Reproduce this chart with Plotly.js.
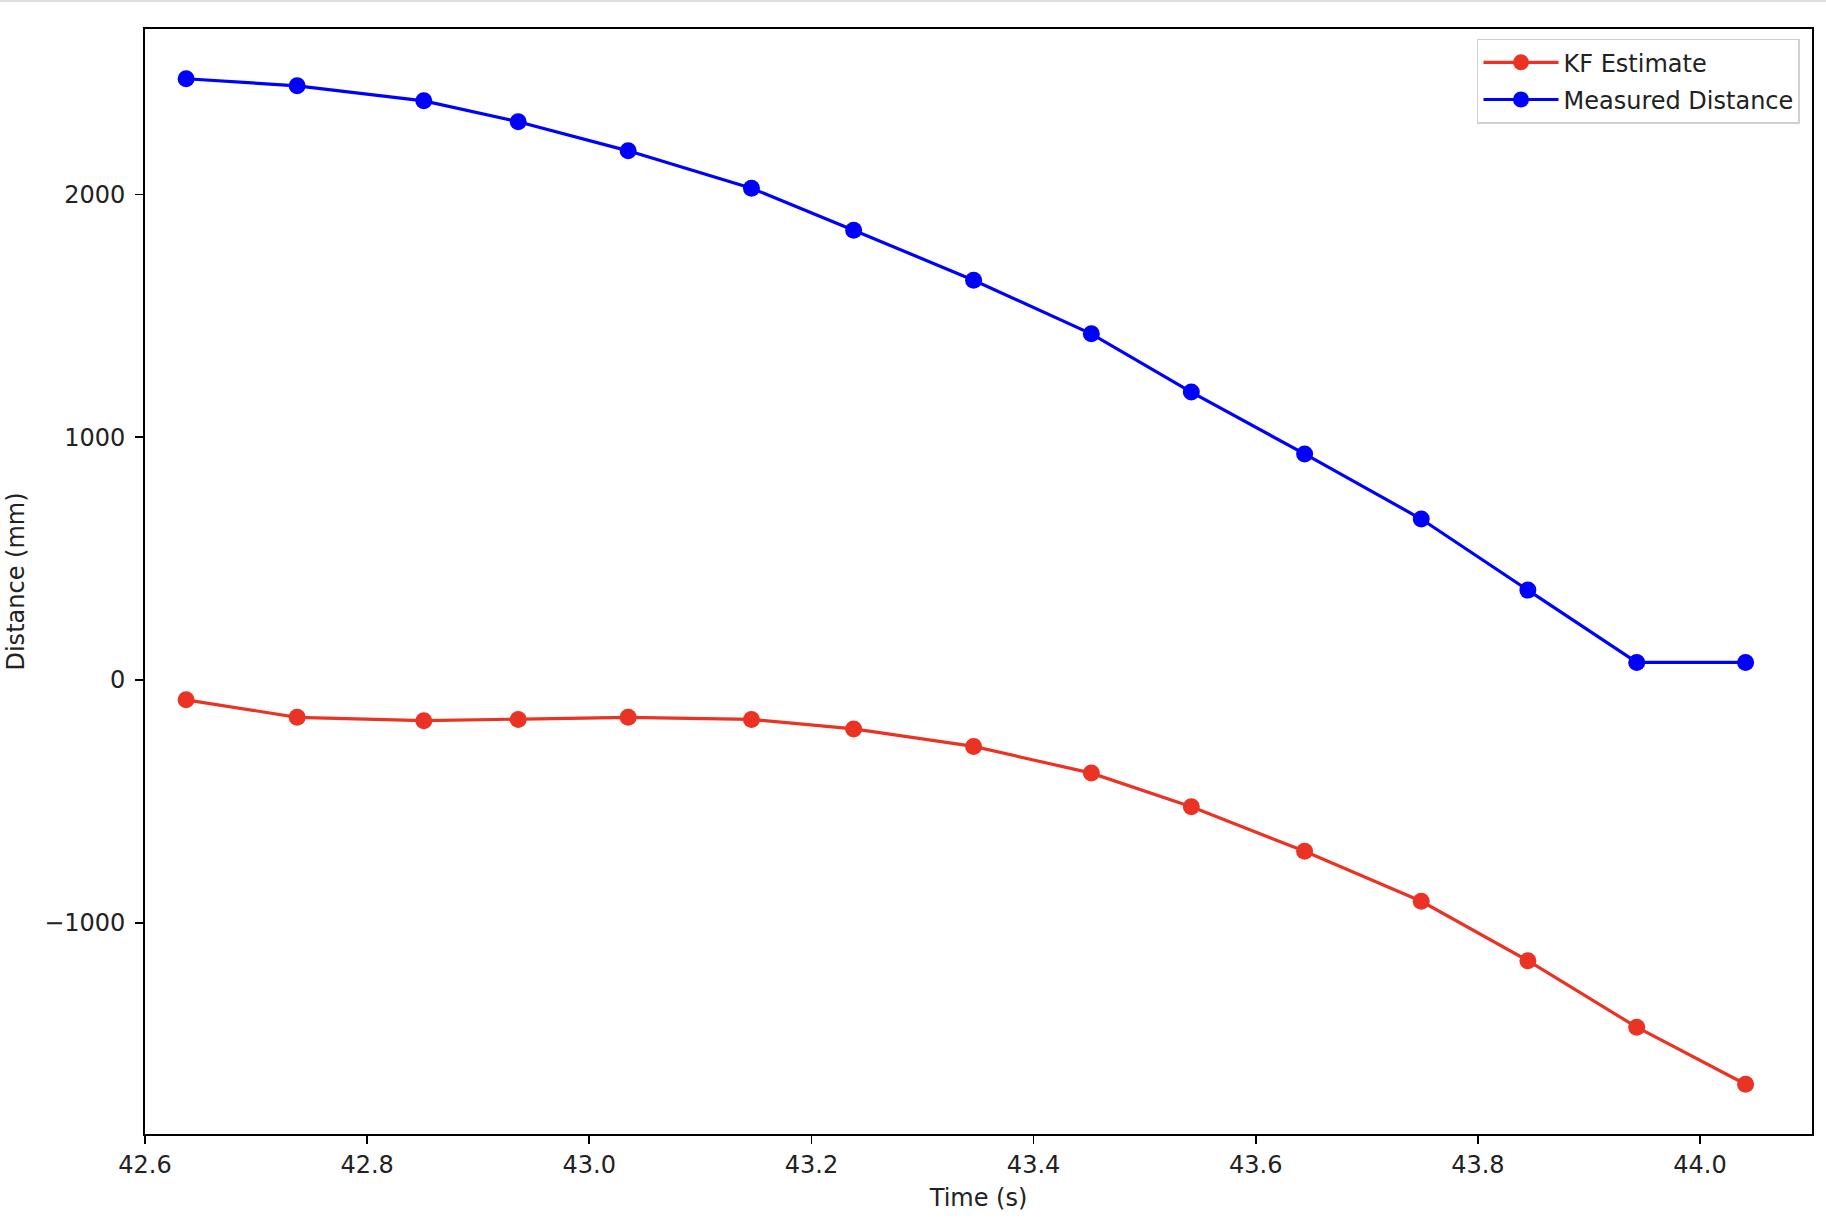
<!DOCTYPE html>
<html>
<head>
<meta charset="utf-8">
<script src="https://cdn.plot.ly/plotly-3.0.1.min.js"></script>
<style>html,body{margin:0;padding:0;background:#fff;}#chart{width:1826px;height:1224px;}</style>
</head>
<body>
<div id="chart"></div>
<script>
const timeS = [42.637, 42.737, 42.851, 42.936, 43.035, 43.146, 43.238, 43.346, 43.452, 43.542, 43.644, 43.749, 43.845, 43.943, 44.041];
const kfEstimate = [-82, -154, -168, -163, -154, -163, -202, -274, -384, -523, -706, -912, -1157, -1431, -1666];
const measuredDistance = [2477, 2448, 2386, 2300, 2180, 2026, 1853, 1647, 1426, 1186, 931, 663, 370, 72, 72];
const seriesNames = ["KF Estimate", "Measured Distance"];
const xTitle = "Time (s)";
const yTitle = "Distance (mm)";

const FONT = "DejaVu Sans, sans-serif";
const FS = 24;
const traces = [
  {x: timeS, y: kfEstimate, name: seriesNames[0], legendgroup: "a", mode: "lines+markers",
   line: {color: "#ea3324", width: 3.2}, marker: {color: "#ea3324", size: 17}},
  {x: timeS, y: measuredDistance, name: seriesNames[1], legendgroup: "b", mode: "lines+markers",
   line: {color: "#0000ff", width: 3.2}, marker: {color: "#0000ff", size: 17}}
];
const axisCommon = {
  showline: true, mirror: true, linecolor: "#000", linewidth: 1.8,
  showgrid: false, zeroline: false, ticks: "outside", ticklen: 8, tickwidth: 1.8,
  tickcolor: "#000", tickfont: {family: FONT, size: FS, color: "#222"}
};
const layout = {
  width: 1826, height: 1224,
  margin: {l: 145, r: 14, t: 29, b: 90},
  paper_bgcolor: "#fff", plot_bgcolor: "#fff",
  showlegend: true,
  legend: {x: 0.9928, y: 0.9912, xanchor: "right", yanchor: "top", traceorder: "grouped",
    bordercolor: "#d0d0d0", borderwidth: 1.5, bgcolor: "#fff",
    font: {family: FONT, size: FS, color: "#222"}, itemwidth: 75, tracegroupgap: 3},
  xaxis: Object.assign({}, axisCommon, {range: [42.6, 44.1008], dtick: 0.2, tick0: 42.6, tickformat: ".1f",
    title: {text: xTitle, font: {family: FONT, size: FS, color: "#222"}, standoff: 12}}),
  yaxis: Object.assign({}, axisCommon, {range: [-1871, 2682], dtick: 1000, tick0: 0, ticklabelstandoff: 5,
    title: {text: yTitle, font: {family: FONT, size: FS, color: "#222"}, standoff: 13}}),
  shapes: [{type: "line", xref: "paper", yref: "paper", x0: -0.09, x1: 1.01, y0: 1.0254, y1: 1.0254,
    line: {color: "#dddddd", width: 2}}]
};
Plotly.newPlot("chart", traces, layout, {displayModeBar: false, staticPlot: true});
</script>
</body>
</html>
